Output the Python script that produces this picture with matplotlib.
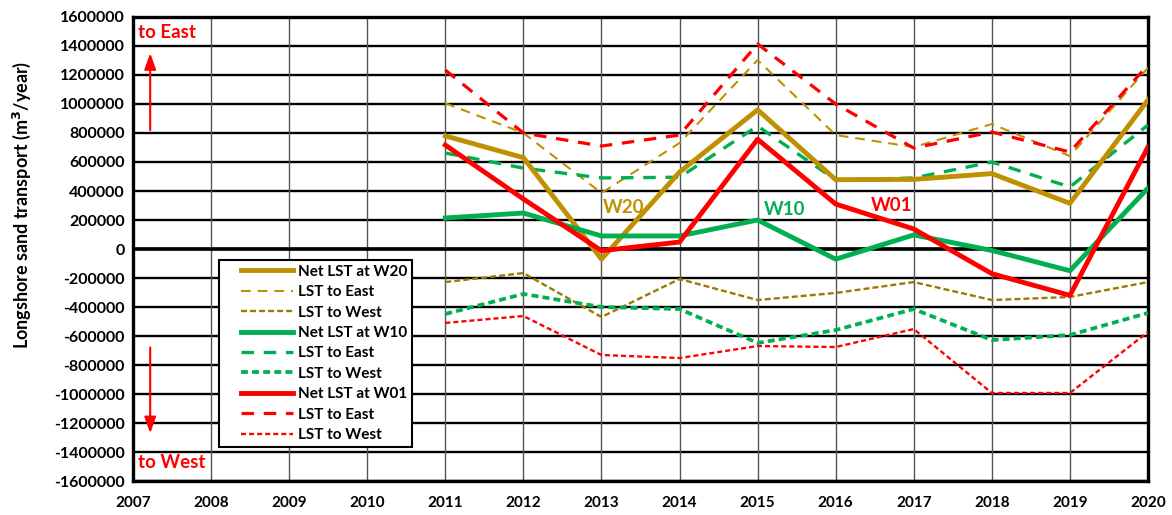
import matplotlib
matplotlib.use("Agg")
import matplotlib.pyplot as plt
from matplotlib.legend_handler import HandlerLine2D
import numpy as np

plt.rcParams['font.family'] = ['Lato', 'DejaVu Sans']
plt.rcParams['font.weight'] = 'bold'
plt.rcParams['lines.scale_dashes'] = False

years = [2011, 2012, 2013, 2014, 2015, 2016, 2017, 2018, 2019, 2020]

w20_net  = [780000, 630000, -70000, 530000, 960000, 478000, 480000, 520000, 315000, 1028000]
w20_east = [1005000, 800000, 386000, 731000, 1303000, 786000, 703000, 862000, 641000, 1250000]
w20_west = [-228000, -166000, -469000, -207000, -352000, -303000, -228000, -352000, -331000, -228000]

w10_net  = [214000, 248000, 90000, 90000, 200000, -70000, 97000, -10000, -150000, 420000]
w10_east = [662000, 558000, 490000, 495000, 848000, 476000, 490000, 600000, 428000, 855000]
w10_west = [-448000, -310000, -400000, -414000, -648000, -559000, -414000, -628000, -593000, -441000]

w01_net  = [717000, 345000, -12000, 48000, 757000, 310000, 138000, -170000, -320000, 703000]
w01_east = [1234000, 800000, 710000, 786000, 1414000, 1000000, 696000, 807000, 669000, 1269000]
w01_west = [-510000, -462000, -731000, -752000, -669000, -676000, -552000, -993000, -993000, -572000]

legend_labels = ["Net LST at W20", "LST to East", "LST to West",
                 "Net LST at W10", "LST to East", "LST to West",
                 "Net LST at W01", "LST to East", "LST to West"]

xticks = list(range(2007, 2021))
yticks = list(range(-1600000, 1600001, 200000))

GOLD = '#BF9000'
OLIVE = '#9C7A00'
GREEN = '#00B050'
RED = '#FF0000'


class ShiftedLineHandler(HandlerLine2D):
    """Line handle drawn only on the right part of the handle box."""
    def __init__(self, shift, **kw):
        super().__init__(**kw)
        self.shift = shift

    def create_artists(self, legend, orig_handle, xdescent, ydescent,
                       width, height, fontsize, trans):
        return super().create_artists(legend, orig_handle, xdescent - self.shift,
                                      ydescent, width - self.shift, height,
                                      fontsize, trans)


fig = plt.figure(figsize=(11.72, 5.15), dpi=100)
ax = fig.add_axes([0.1135, 0.066, 0.866, 0.901])

ax.set_xlim(2007, 2020)
ax.set_ylim(-1600000, 1600000)
ax.set_xticks(xticks)
ax.set_yticks(yticks)
ax.set_xticklabels([str(x) for x in xticks], fontsize=11, fontweight='bold')
ax.set_yticklabels([str(y) for y in yticks], fontsize=11.5, fontweight='bold')
ax.tick_params(length=0, pad=6)
ax.tick_params(axis='x', pad=11)

for y in yticks:
    ax.axhline(y, color='black', lw=1.7, zorder=1)
for x in xticks:
    ax.axvline(x, color='#555555', lw=1.0, zorder=1)
ax.axhline(0, color='black', lw=2.6, zorder=1.5)
for s in ax.spines.values():
    s.set_linewidth(2.4)
    s.set_color('black')

l1, = ax.plot(years, w20_net, color=GOLD, lw=3.5, zorder=5)
l2, = ax.plot(years, w20_east, color=GOLD, lw=1.5, dashes=(7, 5), zorder=4)
l3, = ax.plot(years, w20_west, color=OLIVE, lw=1.7, dashes=(4.3, 2.2), zorder=4)
l4, = ax.plot(years, w10_net, color=GREEN, lw=3.5, zorder=5)
l5, = ax.plot(years, w10_east, color=GREEN, lw=2.4, dashes=(9, 7), zorder=4)
l6, = ax.plot(years, w10_west, color=GREEN, lw=2.7, dashes=(5, 3), zorder=4)
l7, = ax.plot(years, w01_net, color=RED, lw=3.5, zorder=6)
l8, = ax.plot(years, w01_east, color=RED, lw=2.3, dashes=(9, 7), zorder=4)
l9, = ax.plot(years, w01_west, color=RED, lw=1.7, dashes=(3.6, 2.2), zorder=4)

handles = [l1, l2, l3, l4, l5, l6, l7, l8, l9]
leg = ax.legend(handles, legend_labels,
                loc='upper left', bbox_to_anchor=(0.085, 0.476), borderaxespad=0,
                prop={'family': 'Lato', 'weight': 'bold', 'size': 11},
                handlelength=4.55, handletextpad=0.3, labelspacing=0.42,
                fancybox=False, framealpha=1, edgecolor='black', borderpad=0.3,
                handler_map={h: ShiftedLineHandler(12.5) for h in handles})
leg.get_frame().set_linewidth(1.5)
leg.set_zorder(10)

ax.text(2013.02, 283000, "W20", color=GOLD, fontsize=13.5, fontweight='bold', va='center', ha='left', zorder=7)
ax.text(2015.08, 270000, "W10", color=GREEN, fontsize=13.5, fontweight='bold', va='center', ha='left', zorder=7)
ax.text(2016.45, 300000, "W01", color=RED, fontsize=13.5, fontweight='bold', va='center', ha='left', zorder=7)

ax.text(2007.06, 1490000, "to East", color=RED, fontsize=13.5, fontweight='bold', va='center', ha='left', zorder=7)
ax.text(2007.06, -1475000, "to West", color=RED, fontsize=13.5, fontweight='bold', va='center', ha='left', zorder=7)

ax.annotate("", xy=(2007.22, 1370000), xytext=(2007.22, 800000),
            arrowprops=dict(arrowstyle='-|>,head_length=0.7,head_width=0.25', color=RED, lw=1.5, mutation_scale=14), zorder=7)
ax.annotate("", xy=(2007.22, -1290000), xytext=(2007.22, -660000),
            arrowprops=dict(arrowstyle='-|>,head_length=0.7,head_width=0.25', color=RED, lw=1.5, mutation_scale=14), zorder=7)

fig.text(0.0188, 0.602, "Longshore sand transport (m$^\\mathbf{3}$/year)", fontsize=13,
         fontweight='bold', rotation=90, ha='center', va='center')

fig.savefig("out.png", dpi=100)
